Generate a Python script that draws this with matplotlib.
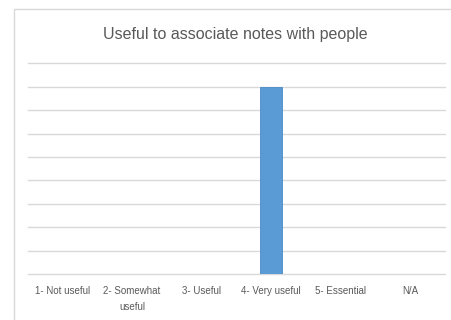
import matplotlib.pyplot as plt
from matplotlib.patches import Rectangle

categories = ["1- Not useful", "2- Somewhat\nuseful", "3- Useful",
              "4- Very useful", "5- Essential", "N/A"]
counts = [0, 0, 0, 8, 0, 0]
y_max = 9

plt.rcParams['font.family'] = ['Liberation Sans', 'DejaVu Sans']

fig = plt.figure(figsize=(4.51, 3.20), dpi=100)
ax = fig.add_axes([0.0614, 0.14375, 0.9253, 0.6583])

# outer chart frame
fig.patches.append(Rectangle((14 / 451, -0.1), 1.0, 1 - 9 / 320 + 0.1,
                             transform=fig.transFigure, fill=False,
                             edgecolor='#d9d9d9', linewidth=1.0))

x = range(len(categories))
ax.bar(x, counts, width=0.316, color='#5b9bd5', edgecolor='#4a8ac8',
       linewidth=0.6, zorder=3)

ax.set_xlim(-0.5, len(categories) - 0.5)
ax.set_ylim(0, y_max)
ax.set_yticks(range(0, y_max + 1))
ax.yaxis.grid(True, color='#d9d9d9', linewidth=1.0, zorder=0)
for gl in ax.get_ygridlines():
    gl.set_clip_on(False)
ax.tick_params(axis='y', left=False, labelleft=False)
ax.tick_params(axis='x', length=0, pad=9, labelsize=7, colors='#595959')
ax.set_xticks(list(x))
ax.set_xticklabels(categories, linespacing=1.65, va='top')
for s in ax.spines.values():
    s.set_visible(False)

fig.text(235 / 451, 1 - 35 / 320, "Useful to associate notes with people",
         ha='center', va='center', fontsize=11.5, color='#595959')

fig.savefig("out.png", dpi=100)
